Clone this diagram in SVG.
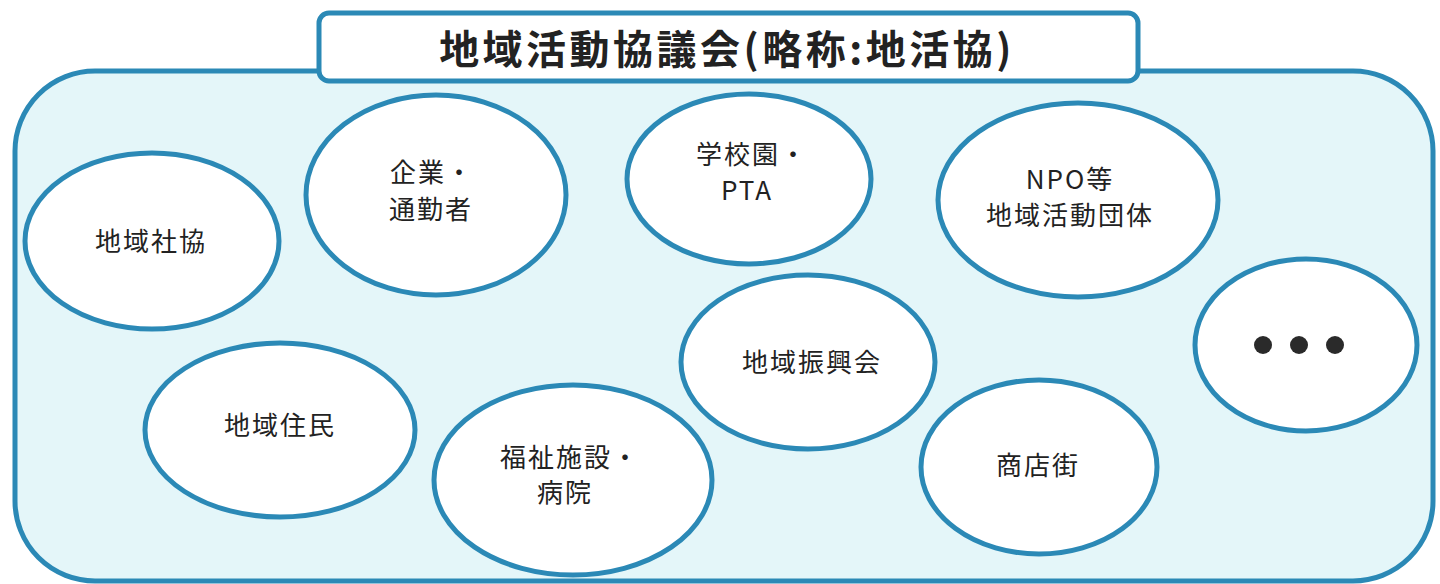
<svg xmlns="http://www.w3.org/2000/svg" width="1440" height="584" viewBox="0 0 1440 584">
<style>
.bg{fill:#e4f6f9;stroke:#2b89b6;stroke-width:5}
.node{fill:#ffffff;stroke:#2b89b6;stroke-width:5}
.t{font-family:"Noto Sans CJK JP","Noto Sans",sans-serif;font-size:26px;letter-spacing:2px;fill:#222;text-anchor:middle;dominant-baseline:central}
.title{font-family:"Noto Sans CJK JP","Noto Sans",sans-serif;font-size:40px;font-weight:bold;letter-spacing:3.5px;fill:#222;text-anchor:middle;dominant-baseline:central}
</style>
<rect width="1440" height="584" fill="#ffffff"/>
<rect class="bg" x="15" y="71" width="1418" height="510" rx="80" ry="80"/>
<g id="title">
<rect x="319" y="13" width="819" height="68" rx="10" ry="10" fill="#ffffff" stroke="#2b89b6" stroke-width="5"/>
<text class="title" x="727" y="47">地域活動協議会(略称:地活協)</text>
</g>
<g id="connectors"></g>
<g id="n-shakyo">
<ellipse class="node" cx="152" cy="241" rx="127" ry="88"/>
<text class="t" x="151" y="239">地域社協</text>
</g>
<g id="n-kigyo">
<ellipse class="node" cx="436" cy="195" rx="130" ry="100"/>
<text class="t" x="432" y="170">企業・</text>
<text class="t" x="431" y="207">通勤者</text>
</g>
<g id="n-gakko">
<ellipse class="node" cx="749" cy="179" rx="122" ry="85"/>
<text class="t" x="752" y="152">学校園・</text>
<text class="t" x="747" y="188">PTA</text>
</g>
<g id="n-npo">
<ellipse class="node" cx="1078" cy="200" rx="140" ry="97"/>
<text class="t" x="1070" y="177">NPO等</text>
<text class="t" x="1070" y="213">地域活動団体</text>
</g>
<g id="n-etc">
<ellipse class="node" cx="1306" cy="345" rx="111" ry="86"/>
<circle cx="1263" cy="345" r="9" fill="#2a2a2a"/>
<circle cx="1299" cy="345" r="9" fill="#2a2a2a"/>
<circle cx="1335" cy="345" r="9" fill="#2a2a2a"/>
</g>
<g id="n-shinko">
<ellipse class="node" cx="808" cy="362" rx="127" ry="87"/>
<text class="t" x="812" y="360">地域振興会</text>
</g>
<g id="n-jumin">
<ellipse class="node" cx="280" cy="430" rx="135" ry="87"/>
<text class="t" x="280" y="423">地域住民</text>
</g>
<g id="n-fukushi">
<ellipse class="node" cx="573" cy="480" rx="139" ry="95"/>
<text class="t" x="570" y="455">福祉施設・</text>
<text class="t" x="565" y="490">病院</text>
</g>
<g id="n-shotengai">
<ellipse class="node" cx="1039" cy="467" rx="118" ry="87"/>
<text class="t" x="1038" y="463">商店街</text>
</g>
</svg>
